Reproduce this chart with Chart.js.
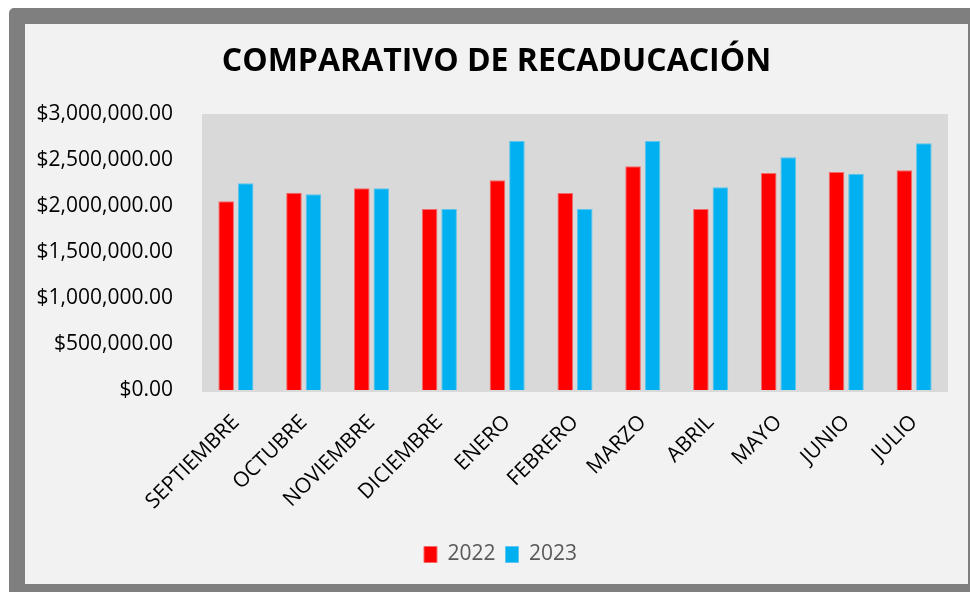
<!DOCTYPE html>
<html lang="es">
<head>
<meta charset="utf-8">
<title>Comparativo de recaudación</title>
<script src="https://cdn.jsdelivr.net/npm/chart.js@4.4.1/dist/chart.umd.min.js"></script>
<style>
  body { margin: 0; background: #fff; }
  #marco {
    position: absolute;
    left: 9px;
    top: 8px;
    width: 943px;
    height: 560px;
    border: 16px solid #7f7f7f;
    border-radius: 5px;
    background: #f2f2f2;
  }
  #grafica { display: block; }
</style>
</head>
<body>
<div id="marco">
  <canvas id="grafica" width="943" height="560"></canvas>
</div>
<script>
// Meses del periodo y montos recaudados por año
const meses = ['SEPTIEMBRE', 'OCTUBRE', 'NOVIEMBRE', 'DICIEMBRE', 'ENERO', 'FEBRERO',
               'MARZO', 'ABRIL', 'MAYO', 'JUNIO', 'JULIO'];
const recaudacion2022 = [2051000, 2145000, 2192000, 1967000, 2279000, 2141000,
                         2431000, 1967000, 2359000, 2370000, 2388000];
const recaudacion2023 = [2247000, 2127000, 2192000, 1967000, 2707000, 1967000,
                         2707000, 2203000, 2529000, 2351000, 2681000];
const ejeMin = 0;
const ejeMax = 3000000;
const ejePaso = 500000;

Chart.defaults.font.family = "'Open Sans', sans-serif";

// Fondo gris del área de trazado
const fondoArea = {
  id: 'fondoArea',
  beforeDraw(chart) {
    const { ctx, chartArea } = chart;
    ctx.save();
    ctx.fillStyle = '#d9d9d9';
    ctx.fillRect(chartArea.left, chartArea.top,
                 chartArea.right - chartArea.left, chartArea.bottom - chartArea.top + 2);
    ctx.restore();
  }
};

// Título y leyenda centrados en el lienzo, no en el espacio que deja el margen derecho
const centrarCajas = {
  id: 'centrarCajas',
  afterLayout(chart) {
    [[chart.titleBlock, 10], [chart.legend, 14]].forEach(([caja, dx]) => {
      if (!caja) return;
      caja.left += dx;
      caja.right += dx;
    });
  }
};

const moneda = v => '$' + v.toLocaleString('en-US', { minimumFractionDigits: 2, maximumFractionDigits: 2 });

const ctx = document.getElementById('grafica').getContext('2d');
new Chart(ctx, {
  type: 'bar',
  data: {
    labels: meses,
    datasets: [{
      label: '2022',
      data: recaudacion2022,
      backgroundColor: '#ff0000',
      borderColor: '#f46a6a',
      borderWidth: 1,
      categoryPercentage: 0.575,
      barPercentage: 0.8
    }, {
      label: '2023',
      data: recaudacion2023,
      backgroundColor: '#00b0f0',
      borderColor: '#5cc6ec',
      borderWidth: 1,
      categoryPercentage: 0.575,
      barPercentage: 0.8
    }]
  },
  options: {
    responsive: false,
    animation: false,
    layout: { padding: { left: 0, right: 20, top: 0, bottom: 9 } },
    plugins: {
      title: {
        display: true,
        text: 'COMPARATIVO DE RECADUCACIÓN',
        color: '#000',
        font: { size: 32, weight: 'bold' },
        padding: { top: 19, bottom: 32.6 }
      },
      legend: {
        position: 'bottom',
        labels: {
          color: '#595959',
          font: { size: 21 },
          boxWidth: 13,
          boxHeight: 16,
          padding: 10,
          useBorderRadius: false
        }
      },
      tooltip: { enabled: false }
    },
    scales: {
      x: {
        grid: { display: false, drawTicks: false },
        border: { display: false },
        ticks: {
          color: '#000',
          font: { size: 21 },
          minRotation: 45,
          maxRotation: 45,
          padding: 20
        },
        afterFit(scale) { scale.height = 144; }
      },
      y: {
        min: ejeMin,
        max: ejeMax,
        grid: { display: false, drawTicks: false },
        border: { display: false },
        ticks: {
          stepSize: ejePaso,
          color: '#000',
          font: { size: 21 },
          padding: 29,
          callback: moneda
        },
        afterFit(scale) { scale.width = 177; }
      }
    }
  },
  plugins: [fondoArea, centrarCajas]
});
</script>
</body>
</html>
